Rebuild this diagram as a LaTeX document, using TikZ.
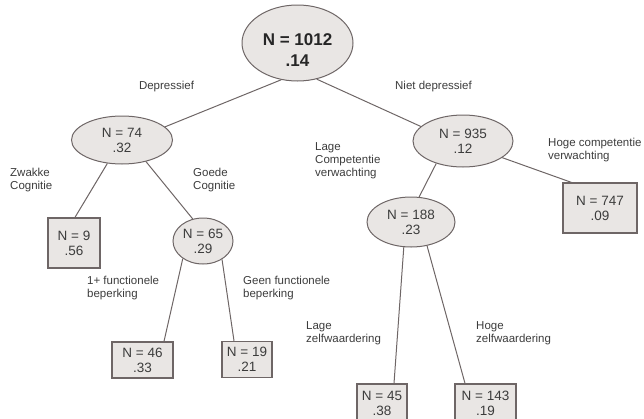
\documentclass[tikz,border=0pt]{standalone}
\usepackage{fontspec}
\setmainfont{Liberation Sans}
\usetikzlibrary{shapes.geometric,calc}
\definecolor{boxfill}{RGB}{233,230,228}
\definecolor{boxline}{RGB}{110,102,102}
\definecolor{txt}{RGB}{60,60,60}
\tikzset{
  ellnode/.style={ellipse, draw=boxline, fill=boxfill, line width=1pt, inner sep=0pt, align=center, text=txt, font=\fontsize{13.5}{15}\selectfont},
  leafbox/.style={rectangle, draw=boxline, fill=boxfill, line width=1.3pt, inner sep=0pt, align=center, text=txt, font=\fontsize{13.5}{15}\selectfont},
  conn/.style={draw=boxline, line width=1pt},
  branchlabel/.style={inner sep=0pt, align=left, text=txt, font=\fontsize{11.5}{13}\selectfont}
}
\begin{document}
\begin{tikzpicture}[x=1pt,y=-1pt]
\useasboundingbox (0,0) rectangle (644,418);
% nodes
\node[ellnode, minimum width=111pt, minimum height=76pt,
      label={[yshift=-7pt, align=center, text=black!85, font=\bfseries\fontsize{17}{21}\selectfont]center:N = 1012\\.14}] (root) at (297.5,43) {};
\node[ellnode, minimum width=101pt, minimum height=48pt] (n74) at (122,140) {N = 74\\.32};
\node[ellnode, minimum width=100pt, minimum height=52pt] (n935) at (463,141) {N = 935\\.12};
\node[leafbox, minimum width=52pt, minimum height=50pt] (n9) at (74,243) {N = 9\\.56};
\node[ellnode, minimum width=60pt, minimum height=46pt] (n65) at (203,241) {N = 65\\.29};
\node[leafbox, minimum width=74pt, minimum height=50pt] (n747) at (600,208) {N = 747\\.09};
\node[ellnode, minimum width=88pt, minimum height=50pt] (n188) at (411,222) {N = 188\\.23};
\node[leafbox, minimum width=61pt, minimum height=36pt] (n46) at (142.5,360) {N = 46\\.33};
\node[leafbox, minimum width=50pt, minimum height=36pt] (n19) at (247,359.5) {N = 19\\.21};
\node[leafbox, minimum width=50pt, minimum height=39pt] (n45) at (382,403.5) {N = 45\\.38};
\node[leafbox, minimum width=61pt, minimum height=39pt] (n143) at (485.5,403.5) {N = 143\\.19};
% connectors
\draw[conn] (root.246.7) -- (n74.17);
\draw[conn] (root.298) -- (n935.161);
\draw[conn] (n74.238) -- ($(n9.north)+(1,0)$);
\draw[conn] (n74.318) -- (n65.115);
\draw[conn] (n65.221) -- ($(n46.north)+(21.5,0)$);
\draw[conn] (n65.316) -- ($(n19.north)+(-13,0)$);
\draw[conn] (n935.220) -- (n188.72);
\draw[conn] (n935.337) -- ($(n747.north west)+(9,0)$);
\draw[conn] (n188.254) -- ($(n45.north)+(12,0)$);
\draw[conn] (n188.304) -- ($(n143.north)+(-20.5,0)$);
% labels
\node[branchlabel, anchor=base] (lDep) at (166.5,89) {Depressief};
\node[branchlabel, anchor=base] (lNiet) at (433.5,89) {Niet depressief};
\node[branchlabel, anchor=north west] (lZw) at (10,167.6) {Zwakke\\Cognitie};
\node[branchlabel, anchor=north west] (lGo) at (193,167.6) {Goede\\Cognitie};
\node[branchlabel, anchor=north west] (lLc) at (315,142.6) {Lage\\Competentie\\verwachting};
\node[branchlabel, anchor=north west] (lHc) at (548,137.6) {Hoge competentie\\verwachting};
\node[branchlabel, anchor=north west] (lFb) at (87,275.6) {1+ functionele\\beperking};
\node[branchlabel, anchor=north west] (lGb) at (243,275.6) {Geen functionele\\beperking};
\node[branchlabel, anchor=north west] (lLz) at (306,321.6) {Lage\\zelfwaardering};
\node[branchlabel, anchor=north west] (lHz) at (476,321.6) {Hoge\\zelfwaardering};
\end{tikzpicture}
\end{document}
